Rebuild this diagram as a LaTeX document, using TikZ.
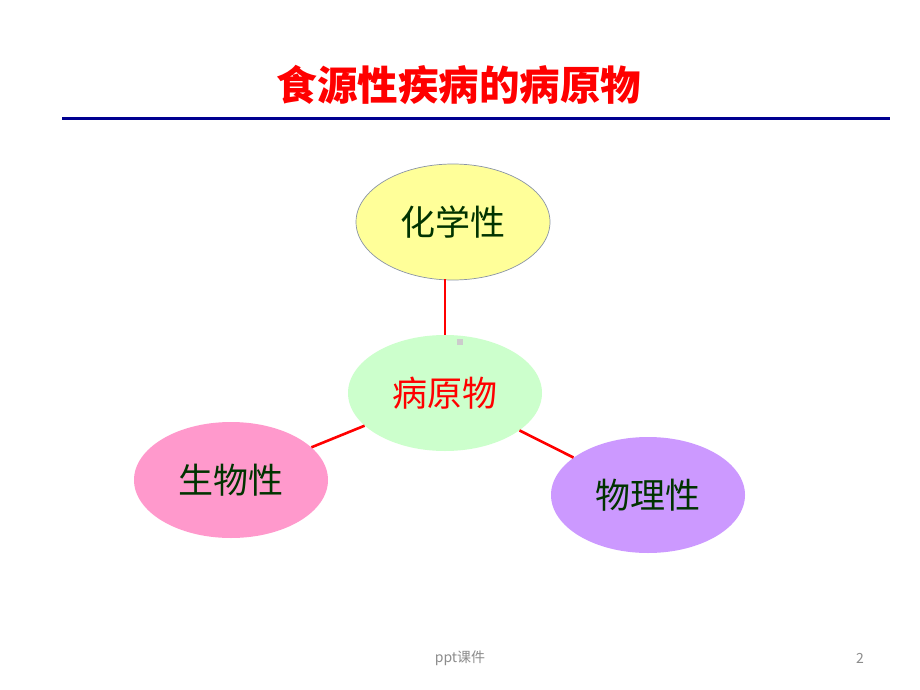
\documentclass[tikz,border=0pt]{standalone}
\usepackage{fontspec}
\setmainfont{Noto Sans CJK SC}
\newfontfamily\cjk{Noto Sans CJK SC}
\usetikzlibrary{shapes.geometric}
\definecolor{titlered}{HTML}{FF0000}
\definecolor{rulenavy}{HTML}{000090}
\definecolor{ellyellow}{HTML}{FFFF99}
\definecolor{ellgreen}{HTML}{CCFFCC}
\definecolor{ellpink}{HTML}{FF99CC}
\definecolor{ellpurple}{HTML}{CC99FF}
\definecolor{txtgreen}{HTML}{003300}
\definecolor{footgray}{HTML}{8C8C8C}
\definecolor{edgegray}{HTML}{8A94A6}
\tikzset{
  bubble/.style={ellipse, inner sep=0pt, minimum width=194pt, minimum height=116pt,
    font=\cjk\fontsize{35}{35}\selectfont, text=txtgreen},
  link/.style={draw=titlered, line width=2.6pt},
  foot/.style={font=\cjk\fontsize{14}{14}\selectfont, text=footgray}
}
\begin{document}
\begin{tikzpicture}[x=1pt,y=-1pt]
\useasboundingbox[fill=white] (0,0) rectangle (920,690);
\node[font=\cjk\bfseries\fontsize{40.5}{40.5}\selectfont, text=titlered] (title) at (459,85) {食源性疾病的病原物};
\coordinate (ruleL) at (62,119);
\coordinate (ruleR) at (890,119);
\draw[rulenavy, line width=3pt] (ruleL) -- (ruleR);
\node[bubble, fill=ellyellow, draw=edgegray, line width=0.7pt] (chem) at (453,222) {化学性};
\node[bubble, fill=ellgreen, text=titlered] (path) at (445,393) {病原物};
\node[bubble, fill=ellpink] (bio) at (231,480) {生物性};
\node[bubble, fill=ellpurple] (phys) at (648,495) {物理性};
\coordinate (chemfoot) at (445,279);
\draw[link] (path) -- (chemfoot);
\draw[link] (path) -- (bio);
\draw[link] (path) -- (phys);
\node[fill=black!20, minimum size=6pt, inner sep=0pt] (mark) at (460,342) {};
\node[foot] (footer) at (460,658) {ppt课件};
\node[foot] (pageno) at (860,658) {2};
\end{tikzpicture}
\end{document}
